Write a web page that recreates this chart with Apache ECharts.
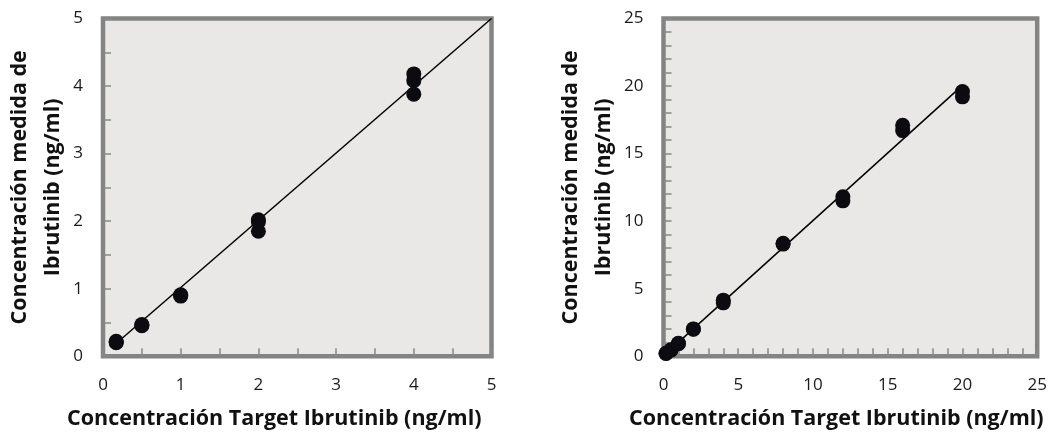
<!DOCTYPE html>
<html>
<head>
<meta charset="utf-8">
<script src="https://cdn.jsdelivr.net/npm/echarts@6/dist/echarts.min.js"></script>
<style>html,body{margin:0;padding:0;background:#fff;}#c{width:1049px;height:432px;}</style>
</head>
<body>
<div id="c"></div>
<script>
// Left panel: 0-5 ng/ml
var leftTarget = [0.17,0.17,0.17, 0.5,0.5,0.5, 1,1,1, 2,2,2, 4,4,4];
var leftMeasured = [0.21,0.20,0.22, 0.46,0.47,0.45, 0.90,0.91,0.89, 2.02,1.99,1.85, 4.18,4.08,3.88];
var leftLine = [[0.12,0.14],[5,5]];
// Right panel: 0-25 ng/ml
var rightTarget = [0.17,0.17,0.5,0.5, 1,1, 2,2, 4,4, 8,8, 12,12, 16,16, 20,20];
var rightMeasured = [0.20,0.22,0.45,0.48, 0.95,0.93, 1.99,2.02, 4.15,3.95, 8.36,8.30, 11.8,11.5, 17.1,16.7, 19.6,19.2];
var rightLine = [[0.12,0.15],[20,20.05]];
var xTitle = 'Concentración Target Ibrutinib (ng/ml)';
var yTitle = 'Concentración medida de\nIbrutinib (ng/ml)';

function pairs(xs, ys){ return xs.map(function(x,i){return [x, ys[i]];}); }

var FONT = 'Open Sans';
var tickStyle = {show:true, inside:true, length:8, lineStyle:{color:'#888', width:1.5}};
function xAxis(idx, max, interval, minorSplit, padRight){
  return {
    type:'value', gridIndex:idx, min:0, max:max, interval:interval,
    axisLine:{show:false}, splitLine:{show:false},
    axisTick:tickStyle,
    minorTick:{show:true, splitNumber:minorSplit, length:8, lineStyle:{color:'#888', width:1.5}},
    axisLabel:{margin:20, fontFamily:FONT, fontSize:17, color:'#1a1a1a'},
    name:xTitle, nameLocation:'middle', nameGap:52,
    nameTextStyle:{fontFamily:FONT, fontWeight:'bold', fontSize:21.5, color:'#111', padding:[0,padRight,0,0]}
  };
}
function yAxis(idx, max, interval, minorSplit, gap){
  return {
    type:'value', gridIndex:idx, min:0, max:max, interval:interval,
    axisLine:{show:false}, splitLine:{show:false},
    axisTick:tickStyle,
    minorTick:{show:true, splitNumber:minorSplit, length:8, lineStyle:{color:'#888', width:1.5}},
    axisLabel:{margin:20, fontFamily:FONT, fontSize:17, color:'#1a1a1a'},
    name:yTitle, nameLocation:'middle', nameGap:gap, nameRotate:90,
    nameTextStyle:{fontFamily:FONT, fontWeight:'bold', fontSize:21.5, lineHeight:33, color:'#111', align:'center'}
  };
}

var gridStyle = {show:true, backgroundColor:'#e9e8e6', borderColor:'#848484', borderWidth:4.5, containLabel:false, outerBoundsMode:'none'};
var option = {
  animation:false,
  grid:[
    Object.assign({left:103, top:18.5, width:388.5, height:337.7}, gridStyle),
    Object.assign({left:663.5, top:18.5, width:373.7, height:337.7}, gridStyle)
  ],
  xAxis:[xAxis(0,5,1,2,46), xAxis(1,25,5,5,28)],
  yAxis:[yAxis(0,5,1,2,33), yAxis(1,25,5,5,43)],
  series:[
    {type:'line', xAxisIndex:0, yAxisIndex:0, data:leftLine, symbol:'none', lineStyle:{color:'#000', width:1.5}, z:2},
    {type:'scatter', xAxisIndex:0, yAxisIndex:0, data:pairs(leftTarget,leftMeasured), symbolSize:15, itemStyle:{color:'#0b0b10', opacity:1}, z:3},
    {type:'line', xAxisIndex:1, yAxisIndex:1, data:rightLine, symbol:'none', lineStyle:{color:'#000', width:1.5}, z:2},
    {type:'scatter', xAxisIndex:1, yAxisIndex:1, data:pairs(rightTarget,rightMeasured), symbolSize:15, itemStyle:{color:'#0b0b10', opacity:1}, z:3}
  ]
};
var chart = echarts.init(document.getElementById('c'), null, {renderer:'canvas'});
chart.setOption(option);
</script>
</body>
</html>
